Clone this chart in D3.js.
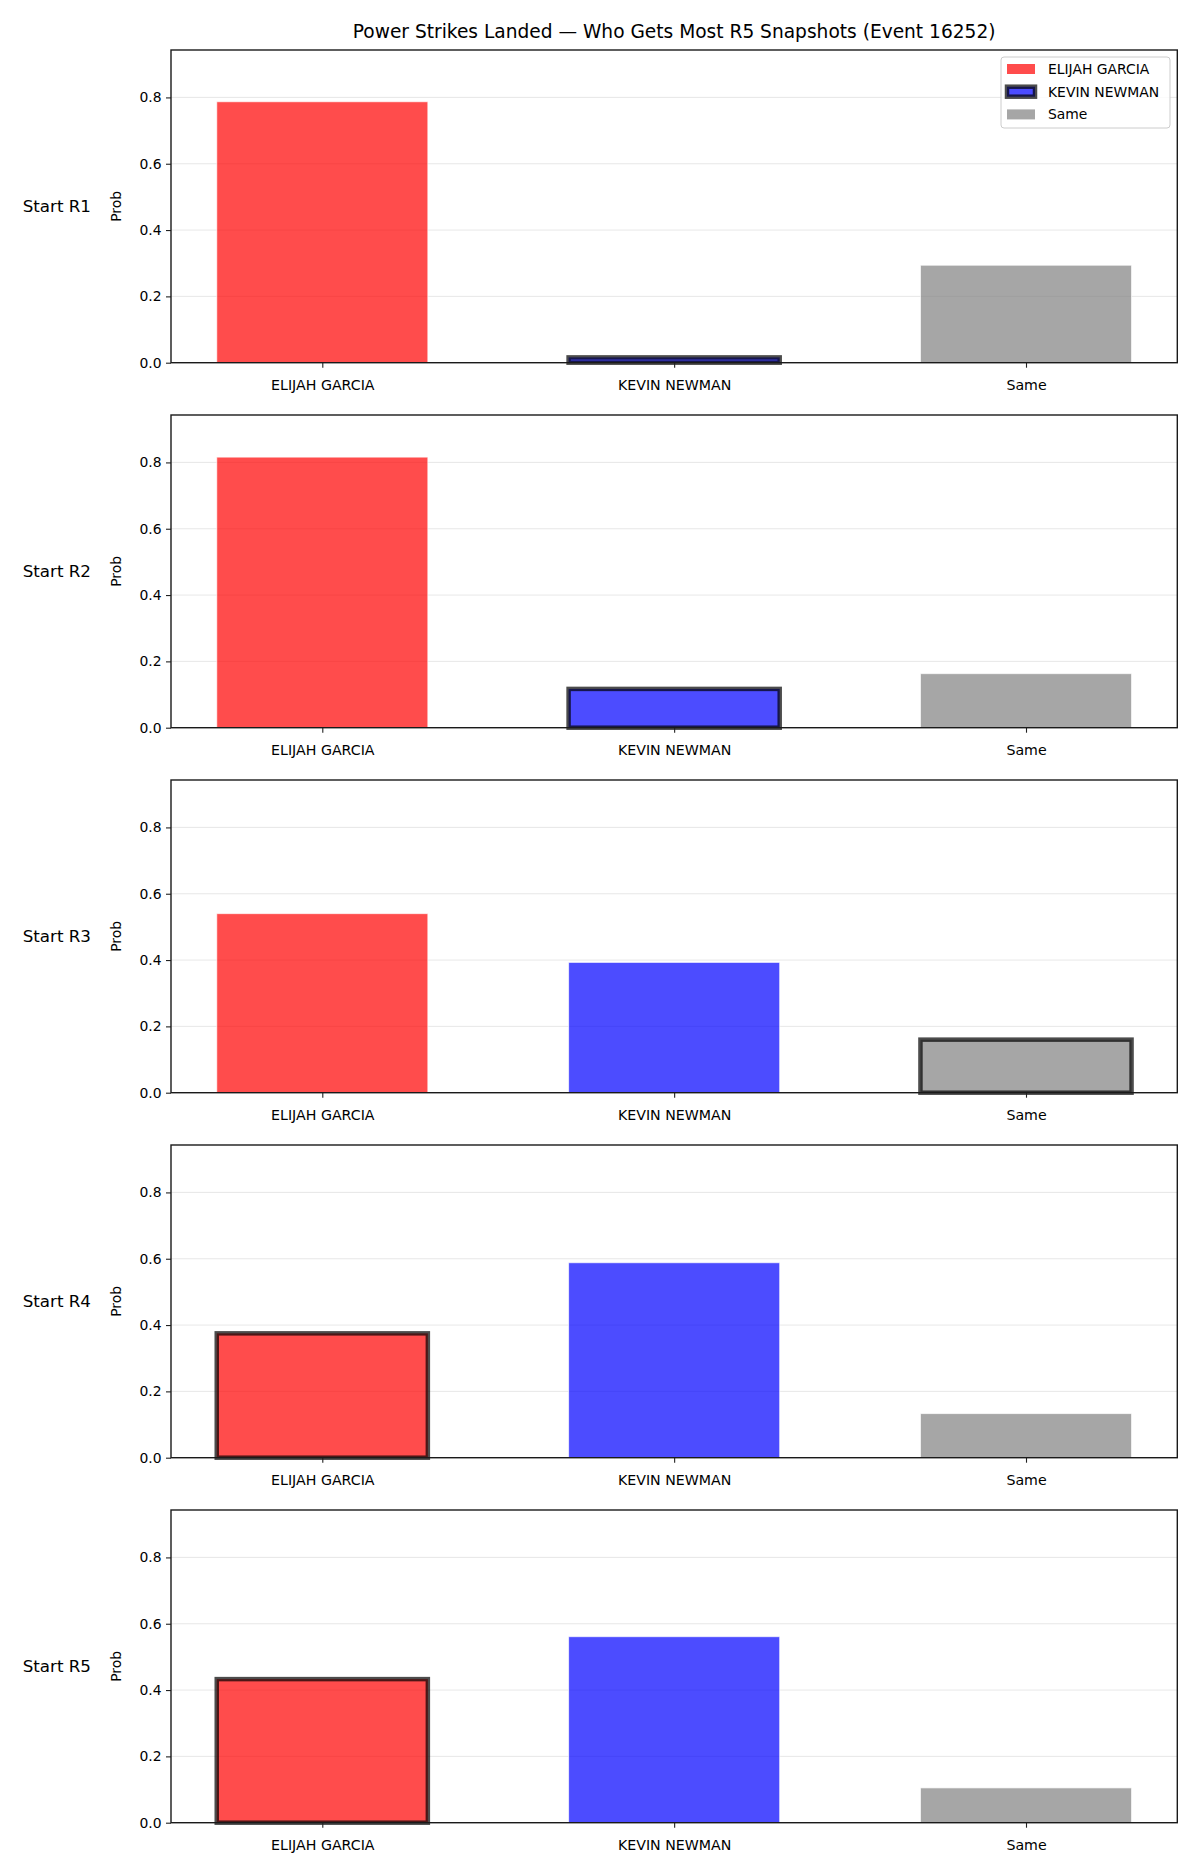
<!DOCTYPE html>
<html lang="en">
<head>
    <meta charset="UTF-8">
    <title>Power Strikes Landed - R5 Snapshots</title>
    <script src="https://d3js.org/d3.v7.min.js"></script>
    <style>
        body { margin: 0; background: #fff; }
        svg text { font-family: 'DejaVu Sans', sans-serif; fill: #000; }
    </style>
</head>
<body>
    <div id="chart"></div>
    <script>
        // Data
        const categories = ["ELIJAH GARCIA", "KEVIN NEWMAN", "Same"];
        const rowLabels = ["Start R1", "Start R2", "Start R3", "Start R4", "Start R5"];
        const probR1 = [0.787, 0.016, 0.294];
        const probR2 = [0.816, 0.117, 0.163];
        const probR3 = [0.540, 0.393, 0.160];
        const probR4 = [0.375, 0.588, 0.133];
        const probR5 = [0.433, 0.561, 0.105];
        const probs = [probR1, probR2, probR3, probR4, probR5];
        // index of the outlined bar in each row
        const highlight = [1, 1, 2, 0, 0];
        const yTicks = [0, 0.2, 0.4, 0.6, 0.8];
        const yMax = 0.943;
        const title = "Power Strikes Landed — Who Gets Most R5 Snapshots (Event 16252)";

        const colors = ["#ff0000", "#0000ff", "#808080"];

        const width = 1200, height = 1875;
        const left = 171, right = 1177.3;
        const top0 = 50, panelH = 312.7, step = 365;

        const svg = d3.select("#chart").append("svg")
            .attr("width", width)
            .attr("height", height);

        svg.append("text")
            .attr("x", (left + right) / 2)
            .attr("y", 38)
            .attr("text-anchor", "middle")
            .style("font-size", "18.6px")
            .text(title);

        const x = d3.scaleLinear()
            .domain([-0.43, 2.43])
            .range([left, right]);
        const barW = x(0.6) - x(0);

        probs.forEach((vals, i) => {
            const top = top0 + i * step;
            const y = d3.scaleLinear()
                .domain([0, yMax])
                .range([top + panelH, top]);

            const g = svg.append("g");

            // grid
            g.selectAll(".grid").data(yTicks).join("line")
                .attr("x1", left).attr("x2", right)
                .attr("y1", d => y(d)).attr("y2", d => y(d))
                .attr("stroke", "#b0b0b0")
                .attr("stroke-opacity", 0.3)
                .attr("stroke-width", 1);

            // bars
            g.selectAll(".bar").data(vals).join("rect")
                .attr("x", (d, j) => x(j) - barW / 2)
                .attr("width", barW)
                .attr("y", d => y(d))
                .attr("height", d => y(0) - y(d))
                .attr("fill", (d, j) => colors[j])
                .attr("fill-opacity", 0.7)
                .attr("stroke", (d, j) => j === highlight[i] ? "#000" : "#fff")
                .attr("stroke-opacity", 0.7)
                .attr("stroke-width", (d, j) => j === highlight[i] ? 4.5 : 1);

            // axes
            g.append("g")
                .attr("transform", `translate(0,${y(0)})`)
                .call(d3.axisBottom(x).tickValues([0, 1, 2])
                    .tickFormat(d => categories[d])
                    .tickSize(5).tickPadding(12))
                .call(a => a.select(".domain").remove())
                .call(a => a.selectAll("text").style("font-size", "14.2px"))
                .call(a => a.selectAll("line").attr("stroke", "#222").attr("stroke-width", 1.1));

            g.append("g")
                .attr("transform", `translate(${left},0)`)
                .call(d3.axisLeft(y).tickValues(yTicks)
                    .tickFormat(d3.format(".1f"))
                    .tickSize(5).tickPadding(4.5))
                .call(a => a.select(".domain").remove())
                .call(a => a.selectAll("text").style("font-size", "13.9px"))
                .call(a => a.selectAll("line").attr("stroke", "#222").attr("stroke-width", 1.1));

            // frame
            g.append("rect")
                .attr("x", left).attr("y", top)
                .attr("width", right - left).attr("height", panelH)
                .attr("fill", "none")
                .attr("stroke", "#1a1a1a")
                .attr("stroke-width", 1.4);

            // labels
            g.append("text")
                .attr("transform", `translate(121,${top + panelH / 2}) rotate(-90)`)
                .attr("text-anchor", "middle")
                .style("font-size", "13.9px")
                .text("Prob");

            g.append("text")
                .attr("x", 91)
                .attr("y", top + panelH / 2 + 6)
                .attr("text-anchor", "end")
                .style("font-size", "16.7px")
                .text(rowLabels[i]);
        });

        // legend (first panel)
        const lg = svg.append("g").attr("transform", "translate(1001,57)");
        lg.append("rect")
            .attr("width", 169).attr("height", 71)
            .attr("rx", 3)
            .attr("fill", "#fff").attr("fill-opacity", 0.8)
            .attr("stroke", "#cccccc");
        categories.forEach((c, j) => {
            const yy = 12 + j * 22.7;
            const hl = j === highlight[0];
            lg.append("rect")
                .attr("x", 6).attr("y", yy - 5)
                .attr("width", 28).attr("height", 10)
                .attr("fill", colors[j]).attr("fill-opacity", 0.7)
                .attr("stroke", hl ? "#000" : "none")
                .attr("stroke-opacity", 0.7)
                .attr("stroke-width", hl ? 4.5 : 0);
            lg.append("text")
                .attr("x", 47).attr("y", yy + 5)
                .style("font-size", "13.9px")
                .text(c);
        });
    </script>
</body>
</html>
